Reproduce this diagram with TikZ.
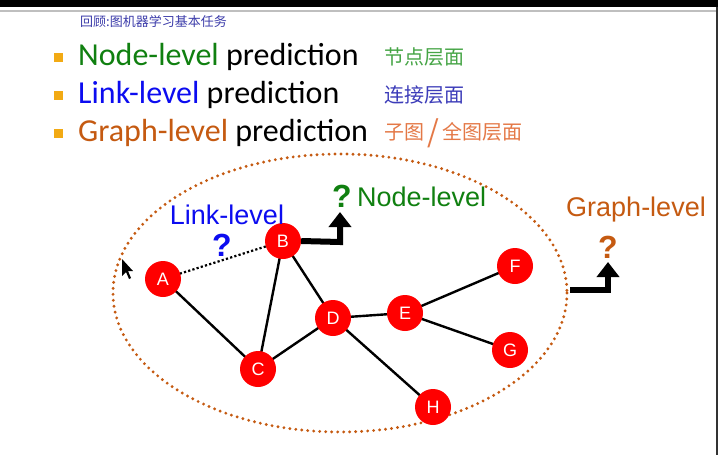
\documentclass[tikz,border=0pt]{standalone}
\usepackage{fontspec}
\setmainfont{Liberation Sans}
\newfontfamily\calfont{Carlito}
\newfontfamily\cjkfont{Noto Sans CJK SC}
\usetikzlibrary{arrows.meta}
\definecolor{ngreen}{RGB}{16,128,16}
\definecolor{lblue}{RGB}{12,12,240}
\definecolor{gorange}{RGB}{197,90,17}
\definecolor{bulletc}{RGB}{242,170,20}
\definecolor{hgreen}{RGB}{70,165,70}
\definecolor{hblue}{RGB}{60,60,185}
\definecolor{horange}{RGB}{228,120,70}
\definecolor{hdr}{RGB}{60,60,170}
\tikzset{
  gnode/.style={circle, fill=red, draw=none, minimum size=36pt, inner sep=0pt, text=white, font=\fontsize{18}{18}\selectfont},
  edge/.style={line width=2.4pt, black},
  bigarrow/.style={line width=6pt, black, line join=miter, -{Triangle[width=22pt,length=15pt]}},
  bul/.style={fill=bulletc, minimum size=9pt, inner sep=0pt, draw=none},
  btext/.style={anchor=base west, inner sep=0pt, font=\calfont\fontsize{32}{32}\selectfont},
  lbl/.style={font=\fontsize{27}{27}\selectfont, inner sep=0pt},
  qm/.style={font=\bfseries\fontsize{32}{32}\selectfont, inner sep=0pt},
  note/.style={font=\cjkfont\fontsize{20}{20}\selectfont, inner sep=0pt, anchor=west},
}
\begin{document}
\begin{tikzpicture}[x=1pt,y=-1pt]
\useasboundingbox (0,0) rectangle (718,455);
\fill[white] (0,0) rectangle (718,455);
% screen frame
\fill[black] (0,0) rectangle (718,7);
\draw[gray!50, line width=1.5pt] (0,11) -- (718,11);
\draw[black!80, line width=1.5pt] (717,7) -- (717,455);

% header
\node[font=\cjkfont\fontsize{13}{13}\selectfont, text=hdr, anchor=west, inner sep=0pt] (hd) at (80,22) {回顾:图机器学习基本任务};

% bullets
\node[bul] (b1) at (58,57) {};
\node[bul] (b2) at (58,95) {};
\node[bul] (b3) at (58,133) {};
\node[btext] (t1) at (78,65) {\textcolor{ngreen}{Node-level} prediction};
\node[btext] (t2) at (78,103) {\textcolor{lblue}{Link-level} prediction};
\node[btext] (t3) at (78,141) {\textcolor{gorange}{Graph-level} prediction};

% handwritten notes
\node[note, text=hgreen] (n1) at (384,57) {节点层面};
\node[note, text=hblue] (n2) at (384,95) {连接层面};
\node[note, text=horange] (n3) at (384,133) {子图\,\raisebox{-3pt}{\fontsize{30}{30}\selectfont/}\,全图层面};

% ellipse
\draw[gorange, line width=3.2pt, line cap=round, dash pattern=on 0pt off 6pt] (340,293) ellipse [x radius=227, y radius=139];

% edges
\coordinate (pA) at (163,279);
\coordinate (pB) at (283,241);
\coordinate (pC) at (258,369);
\coordinate (pD) at (333,318);
\coordinate (pE) at (405,313);
\coordinate (pF) at (515,266);
\coordinate (pG) at (510,350);
\coordinate (pH) at (433,407);
\draw[edge, dash pattern=on 2.2pt off 2.2pt, line width=2.2pt] (pA) -- (pB);
\draw[edge] (pA) -- (pC);
\draw[edge] (pB) -- (pC);
\draw[edge] (pB) -- (pD);
\draw[edge] (pC) -- (pD);
\draw[edge] (pD) -- (pE);
\draw[edge] (pD) -- (pH);
\draw[edge] (pE) -- (pF);
\draw[edge] (pE) -- (pG);

% graph nodes
\node[gnode] (A) at (pA) {A};
\node[gnode] (B) at (pB) {B};
\node[gnode] (C) at (pC) {C};
\node[gnode] (D) at (pD) {D};
\node[gnode] (E) at (pE) {E};
\node[gnode] (F) at (pF) {F};
\node[gnode] (G) at (pG) {G};
\node[gnode] (H) at (pH) {H};

% labels
\node[lbl, text=lblue] (ll) at (227,215) {Link-level};
\node[qm, text=lblue] (lq) at (222,245) {?};
\node[qm, text=ngreen] (nq) at (342,196) {?};
\node[lbl, text=ngreen, anchor=west] (nl) at (357,197) {Node-level};
\node[lbl, text=gorange] (gl) at (636,210) {Graph-level};
\node[qm, text=gorange] (gq) at (608,247) {?};

% arrows
\coordinate (nc) at (340,242);
\coordinate (nt) at (340,212);
\draw[bigarrow] (B.east) -- (nc) -- (nt);
\coordinate (gs) at (570,290);
\coordinate (gc) at (608,290);
\coordinate (gt) at (608,262);
\draw[bigarrow] (gs) -- (gc) -- (gt);

% mouse cursor
\fill[black] (122,259) -- (122,276) -- (126,272) -- (129,279) -- (131,278) -- (128,271) -- (133,271) -- cycle;
\end{tikzpicture}
\end{document}
